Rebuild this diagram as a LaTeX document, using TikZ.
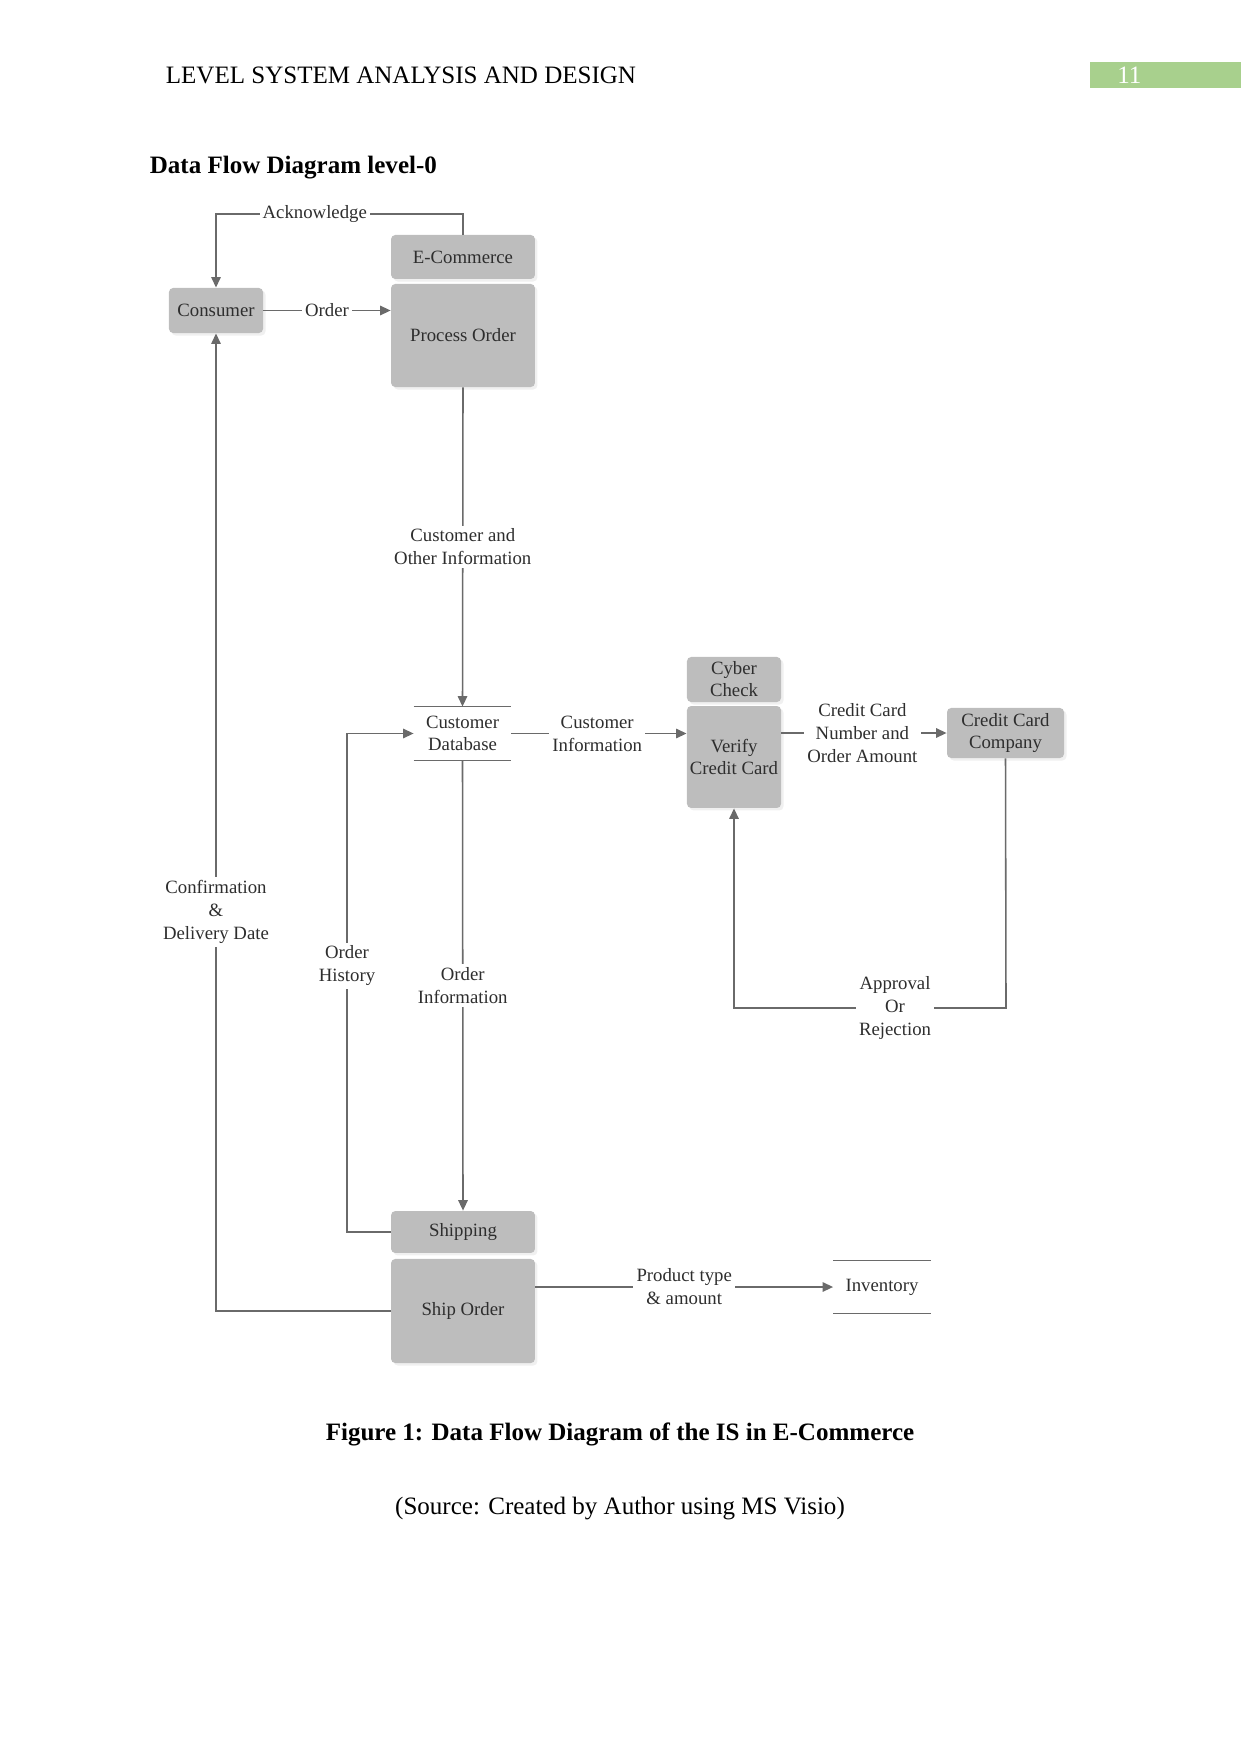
\documentclass[tikz,border=0pt]{standalone}
\usepackage{fontspec}
\setmainfont{Liberation Serif}
\usetikzlibrary{arrows.meta,shadows,calc}
\definecolor{boxgray}{HTML}{BDBDBD}
\definecolor{linegray}{HTML}{6A6A6A}
\definecolor{txtgray}{HTML}{2E2E2E}
\definecolor{pagegreen}{HTML}{A8D08D}
\tikzset{
  procbox/.style={draw=none, fill=boxgray, rounded corners=2pt, align=center,
    text=txtgray, font=\fontsize{9}{11}\selectfont, inner sep=1pt,
    drop shadow={opacity=0.12, shadow xshift=1.2pt, shadow yshift=-1.2pt}},
  storebox/.style={draw=none, align=center, text=txtgray,
    font=\fontsize{9}{11}\selectfont, inner sep=1pt},
  flow/.style={draw=linegray, line width=0.75pt, -{Triangle[length=5pt,width=4.5pt]}},
  plainline/.style={draw=linegray, line width=0.75pt},
  flowlabel/.style={fill=white, align=center, text=txtgray,
    font=\fontsize{9}{11}\selectfont, inner sep=1.5pt},
}
\begin{document}
\begin{tikzpicture}[x=0.4795pt,y=-0.4795pt]
\useasboundingbox (0,0) rectangle (1241,1754);
% page header
\node[anchor=west, font=\fontsize{12}{14}\selectfont] (hdr) at (158.5,75) {LEVEL SYSTEM ANALYSIS AND DESIGN};
\fill[pagegreen] (1090,62) rectangle (1241,88);
\node[anchor=west, text=white, font=\fontsize{12}{14}\selectfont] (pg) at (1110,75) {11};
\node[anchor=west, font=\bfseries\fontsize{12}{14}\selectfont] (ttl) at (142.5,167.5) {Data Flow Diagram level-0};

% process boxes
\node[procbox, minimum width=45.1pt, minimum height=21.6pt] (consumer) at (216,310.5) {Consumer};
\node[procbox, minimum width=69pt, minimum height=21.1pt] (ecom) at (463,257) {E-Commerce};
\node[procbox, minimum width=69pt, minimum height=49.4pt] (process) at (463,335.5) {Process Order};
\node[procbox, minimum width=45.1pt, minimum height=21.6pt, font=\fontsize{9}{10.5}\selectfont] (cyber) at (734,679.5) {Cyber\\Check};
\node[procbox, minimum width=45.1pt, minimum height=48.9pt, font=\fontsize{9}{10.5}\selectfont] (verify) at (734,757) {Verify\\Credit Card};
\node[procbox, minimum width=56.1pt, minimum height=24pt, font=\fontsize{9}{10.5}\selectfont] (ccc) at (1005.5,733) {Credit Card\\Company};
\node[procbox, minimum width=69pt, minimum height=20.1pt] (shipping) at (463,1232) {Shipping};
\node[procbox, minimum width=69pt, minimum height=49.9pt] (shiporder) at (463,1311) {Ship Order};

% data stores
\node[storebox, minimum width=46.5pt, minimum height=25.4pt, font=\fontsize{9}{10.5}\selectfont] (db) at (462.5,733.5) {Customer\\Database};
\draw[plainline] (db.north west) -- (db.north east);
\draw[plainline] (db.south west) -- (db.south east);
\node[storebox, minimum width=46.5pt, minimum height=25pt] (inv) at (882,1287) {Inventory};
\draw[plainline] (inv.north west) -- (inv.north east);
\draw[plainline] (inv.south west) -- (inv.south east);

% helper coordinates
\coordinate (ackTop) at (463,214);
\coordinate (apprBot) at (1006,1008);
\coordinate (histX) at (347,1232);

% flows
\draw[flow] (ecom.north) -- (ackTop) -| node[flowlabel, pos=0.3] (lack) {Acknowledge} (consumer.north);
\draw[flow] (consumer.east) -- node[flowlabel, pos=0.5] (lord) {Order} (consumer.east -| process.west);
\draw[flow] (process.south) -- node[flowlabel, pos=0.5] (lcust) {Customer and\\Other Information} (db.north);
\draw[flow] (db.east) -- node[flowlabel, pos=0.49] (lci) {Customer\\Information} (db.east -| verify.west);
\draw[flow] (ccc.west -| verify.east) -- node[flowlabel, pos=0.49] (lccn) {Credit Card\\Number and\\Order Amount} (ccc.west);
\draw[flow] (ccc.south) -- (apprBot) -| node[flowlabel, pos=0.204] (lapp) {Approval\\Or\\Rejection} (verify.south);
\draw[flow] (shiporder.west) -| node[flowlabel, pos=0.704] (lconf) {Confirmation\\\&\\Delivery Date} (consumer.south);
\draw[flow] (shipping.west) -- (histX) |- node[flowlabel, pos=0.267] (lhist) {Order\\History} (db.west);
\draw[flow] (db.south) -- node[flowlabel, pos=0.5] (loi) {Order\\Information} (shipping.north);
\draw[flow] (inv.west -| shiporder.east) -- node[flowlabel, pos=0.5] (lprod) {Product type\\\& amount} (inv.west);

% caption
\node[font=\bfseries\fontsize{12}{14}\selectfont] (cap) at (620,1434.5) {Figure 1: Data Flow Diagram of the IS in E-Commerce};
\node[font=\fontsize{12}{14}\selectfont] (src) at (620,1509) {(Source: Created by Author using MS Visio)};
\end{tikzpicture}
\end{document}
